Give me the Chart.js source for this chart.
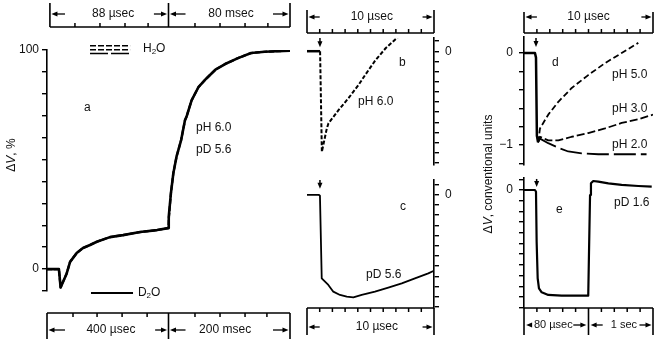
<!DOCTYPE html>
<html><head><meta charset="utf-8">
<script src="https://cdn.jsdelivr.net/npm/chart.js@4.4.1/dist/chart.umd.min.js"></script>
<style>
html,body{margin:0;padding:0;background:#fff;}
#wrap{position:relative;width:662px;height:351px;overflow:hidden;background:#fff;}
#wrap canvas{position:absolute;left:0;top:0;}
</style></head><body>
<div id="wrap">
<canvas id="pa" width="662" height="351"></canvas>
<canvas id="pb" width="662" height="351"></canvas>
<canvas id="pc" width="662" height="351"></canvas>
<canvas id="pd" width="662" height="351"></canvas>
<canvas id="pe" width="662" height="351"></canvas>
</div>
<script>
// ---------------- DATA (x in scale divisions 0..10) ----------------
// panel a : H2O and D2O traces coincide (different time bases)
const aTime   = [0,0.49,0.56,0.81,0.95,1.22,1.48,1.77,2.05,2.59,3.13,3.83,4.53,4.98,5.0,5.02,5.1,5.2,5.33,5.52,5.68,5.74,5.95,6.23,6.56,6.93,7.33,7.86,8.4,8.96,10];
const aSignal = [0,0,-8.4,-2,3.3,7.3,9.6,11,12.5,14.6,15.5,16.9,17.8,18.7,19.3,23.9,34.7,43.8,51.3,58.9,68,69.5,77,83,87,91,93.6,96.3,98.6,99.2,99.7];
const aTickLabels = [0, 100];
// panel b : pH 6.0
const bPreTime = [0, 1.03];
const bPreVal  = [0, 0];
const bTime = [1.03,1.17,1.56,1.69,2.48,3.28,4.07,4.6,5.4,6.19,7.25];
const bVal  = [0,-9.9,-7.6,-7.1,-5.8,-4.6,-3.3,-2.3,-0.87,0.29,1.5];
// panel c : pD 5.6
const cTime = [0,0.92,1.02,1.16,1.28,1.68,2.07,2.6,3.13,3.65,4.31,5.35,6.4,7.46,8.5,9.55,9.95];
const cVal  = [0,0,-0.1,-8.2,-8.35,-8.84,-9.5,-9.82,-9.99,-10.05,-9.82,-9.5,-9.1,-8.68,-8.19,-7.7,-7.47];
// panel d : flash response and three pH branches
const dPreTime = [0,0.85,0.93,1.0,1.09];
const dPreVal  = [0,0,-0.05,-0.9,-0.97];
const dTime5 = [1.09,1.24,1.88,2.66,3.7,4.98,6.28,7.57,8.86];
const dPH5   = [-0.97,-0.82,-0.67,-0.53,-0.38,-0.24,-0.11,0,0.11];
const dTime3 = [1.09,1.24,1.88,2.66,3.7,4.98,6.28,7.57,8.86,10];
const dPH3   = [-0.97,-0.91,-0.95,-0.95,-0.91,-0.87,-0.82,-0.76,-0.72,-0.67];
const dTime2 = [1.09,1.24,1.88,2.66,3.43,4.47,5.76,7.57,9.5];
const dPH2   = [-0.97,-0.93,-0.98,-1.03,-1.07,-1.09,-1.1,-1.1,-1.1];
const dTickLabels = [0, -1];
// panel e : pD 1.6
const eTime = [0,0.85,0.93,0.98,1.06,1.16,1.37,1.88,2.92,4.98,5.04,5.12,5.19,5.37,5.76,6.54,7.57,8.86,9.9];
const eVal  = [0,0,-0.16,-4.84,-8.25,-9.19,-9.56,-9.81,-9.88,-9.88,-5.76,-0.47,0.62,0.84,0.78,0.62,0.47,0.37,0.31];

// ---------------- helpers ----------------
const W = 662, H = 351;
const FONT = "'Liberation Sans', Arial, Helvetica, sans-serif";
const INK = '#111';
const pts = (xs, ys) => xs.map((x, i) => ({x, y: ys[i]}));

function seg(ctx, x0, y0, x1, y1) { ctx.beginPath(); ctx.moveTo(x0, y0); ctx.lineTo(x1, y1); ctx.stroke(); }
function hArrow(ctx, xFrom, xTo, y) {
  const d = Math.sign(xTo - xFrom);
  seg(ctx, xFrom, y, xTo - d * 4, y);
  ctx.beginPath(); ctx.moveTo(xTo, y); ctx.lineTo(xTo - d * 6, y - 2.5); ctx.lineTo(xTo - d * 6, y + 2.5); ctx.closePath(); ctx.fill();
}
function vArrow(ctx, x, y0, y1) {
  seg(ctx, x, y0, x, y1 - 4);
  ctx.beginPath(); ctx.moveTo(x, y1); ctx.lineTo(x - 2.5, y1 - 6); ctx.lineTo(x + 2.5, y1 - 6); ctx.closePath(); ctx.fill();
}
// rich text: parts [{t, it, sub, size}]
function rich(ctx, parts, x, y, align) {
  const fontOf = p => (p.it ? 'italic ' : '') + (p.sub ? '8px ' : (p.size || 12) + 'px ') + FONT;
  let total = 0;
  parts.forEach(p => { ctx.font = fontOf(p); total += ctx.measureText(p.t).width; });
  let cx = align === 'center' ? x - total / 2 : (align === 'right' ? x - total : x);
  ctx.textAlign = 'left'; ctx.textBaseline = 'middle';
  parts.forEach(p => { ctx.font = fontOf(p); ctx.fillText(p.t, cx, y + (p.sub ? 3 : 0)); cx += ctx.measureText(p.t).width; });
}

// ---------------- annotation specs (scale divisions / data values) ----------------
const DECOR = {
  pa: {
    bars: [
      {y: 27, dir: -1, capA: 3, capB: 27, ty: 14, from: 0.12, to: 10, caps: [0.12, 5, 10],
       ticks: [1.15, 2.18, 3.21, 4.16, 6.09, 7.12, 8.15, 9.09],
       segs: [{t: '88 µsec', tx: 2.72, l: [0.12, 0.74], r: [4.4, 5]}, {t: '80 msec', tx: 7.57, l: [5, 5.7], r: [9.3, 10]}]},
      {y: 313, dir: 1, capA: 313, capB: 339, ty: 330, from: 0, to: 10, caps: [0, 5, 10],
       ticks: [1.07, 2.06, 3.09, 4.12, 6.09, 7.12, 8.15, 9.05],
       segs: [{t: '400 µsec', tx: 2.63, l: [0, 0.74], r: [4.45, 5]}, {t: '200 msec', tx: 7.33, l: [5, 5.7], r: [9.3, 10]}]}
    ],
    texts: [
      {p: [{t: 'a'}], x: 1.52, y: 73.5},
      {p: [{t: 'pH 6.0'}], x: 6.13, y: 64.4},
      {p: [{t: 'pD 5.6'}], x: 6.13, y: 54.4},
      {p: [{t: 'H'}, {t: '2', sub: 1}, {t: 'O'}], x: 3.95, y: 100.5},
      {p: [{t: 'D'}, {t: '2', sub: 1}, {t: 'O'}], x: 3.74, y: -10.9}
    ],
    vtitle: {p: [{t: 'Δ'}, {t: 'V', it: 1}, {t: ', %'}], px: 12, py: 155},
    legend: [
      {x0: 1.77, x1: 3.42, y: 101.9, dash: [6, 2], w: 1.5},
      {x0: 1.77, x1: 3.42, y: 100.1, dash: [6, 2], w: 1.5},
      {x0: 1.77, x1: 3.42, y: 98.4, dash: [18, 3], w: 1.5},
      {x0: 1.81, x1: 3.54, y: -10.9, dash: [], w: 2}
    ],
    markers: []
  },
  pb: {
    bars: [
      {y: 33, dir: -1, capA: 10, capB: 33, ty: 17, from: 0, to: 10, caps: [0, 10],
       ticks: [1, 2, 3, 4, 5, 6, 7, 8, 9],
       segs: [{t: '10 µsec', tx: 5.1, l: [0, 1.0], r: [9.1, 10]}]}
    ],
    texts: [{p: [{t: 'b'}], x: 7.24, y: -1.16}, {p: [{t: 'pH 6.0'}], x: 4.02, y: -5.0}],
    markers: [{x: 1.02, y0: 1.3, y1: 0.4}], legend: []
  },
  pc: {
    bars: [
      {y: 308, dir: 1, capA: 308, capB: 335, ty: 327, from: 0, to: 10, caps: [0, 10],
       ticks: [1, 2, 3, 4, 5, 6, 7, 8, 9],
       segs: [{t: '10 µsec', tx: 5.5, l: [0, 1.0], r: [9.1, 10]}]}
    ],
    texts: [{p: [{t: 'c'}], x: 7.32, y: -1.2}, {p: [{t: 'pD 5.6'}], x: 4.65, y: -7.86}],
    markers: [{x: 1.02, y0: 1.45, y1: 0.6}], legend: []
  },
  pd: {
    bars: [
      {y: 33, dir: -1, capA: 12, capB: 33, ty: 17, from: 0, to: 10, caps: [0, 10],
       ticks: [1, 2, 3, 4, 5, 6, 7, 8, 9],
       segs: [{t: '10 µsec', tx: 5.0, l: [0, 1.0], r: [9.1, 10]}]}
    ],
    texts: [
      {p: [{t: 'd'}], x: 2.17, y: -0.109},
      {p: [{t: 'pH 5.0'}], x: 6.82, y: -0.24},
      {p: [{t: 'pH 3.0'}], x: 6.82, y: -0.6},
      {p: [{t: 'pH 2.0'}], x: 6.82, y: -1.0}
    ],
    vtitle: {p: [{t: 'Δ'}, {t: 'V', it: 1}, {t: ', conventional units'}], px: 489, py: 174},
    markers: [{x: 0.93, y0: 0.163, y1: 0.065}], legend: []
  },
  pe: {
    bars: [
      {y: 308, dir: 1, capA: 308, capB: 335, ty: 325, from: 0, to: 10, caps: [0, 5, 10],
       ticks: [1, 2, 3, 4, 6, 7, 8, 9],
       segs: [{t: '80 µsec', size: 11, tx: 2.27, l: [0.05, 0.62], r: [3.82, 4.95]},
              {t: '1 sec', size: 11, tx: 7.75, l: [5.05, 6.1], r: [8.95, 10]}]}
    ],
    texts: [{p: [{t: 'e'}], x: 2.48, y: -1.87}, {p: [{t: 'pD 1.6'}], x: 6.98, y: -1.21}],
    markers: [{x: 0.98, y0: 1.03, y1: 0.28}], legend: []
  }
};

const decorPlugin = {
  id: 'panelDecor',
  afterDraw(chart) {
    const spec = DECOR[chart.canvas.id];
    if (!spec) return;
    const ctx = chart.ctx;
    const X = v => chart.scales.x.getPixelForValue(v);
    const Y = v => chart.scales.y.getPixelForValue(v);
    ctx.save();
    ctx.strokeStyle = '#000'; ctx.fillStyle = INK; ctx.lineCap = 'butt';
    // time bars
    spec.bars.forEach(b => {
      ctx.lineWidth = 1.6;
      seg(ctx, X(b.from), b.y, X(b.to), b.y);
      b.caps.forEach(c => seg(ctx, X(c), b.capA, X(c), b.capB));
      ctx.lineWidth = 1.5;
      b.ticks.forEach(t => seg(ctx, X(t), b.y, X(t), b.y + b.dir * 4));
      ctx.lineWidth = 1.3;
      b.segs.forEach(s => {
        ctx.fillStyle = INK;
        rich(ctx, [{t: s.t, size: s.size}], X(s.tx), b.ty, 'center');
        ctx.fillStyle = '#000';
        hArrow(ctx, X(s.l[1]), X(s.l[0]) + 1.5, b.ty);
        hArrow(ctx, X(s.r[0]), X(s.r[1]) - 1.5, b.ty);
      });
    });
    // markers (flash arrows)
    ctx.lineWidth = 1.5; ctx.fillStyle = '#000';
    spec.markers.forEach(m => vArrow(ctx, X(m.x), Y(m.y0), Y(m.y1)));
    // legend lines
    spec.legend.forEach(l => { ctx.lineWidth = l.w; ctx.setLineDash(l.dash); seg(ctx, X(l.x0), Y(l.y), X(l.x1), Y(l.y)); });
    ctx.setLineDash([]);
    // texts
    ctx.fillStyle = INK;
    spec.texts.forEach(t => rich(ctx, t.p, X(t.x), Y(t.y), 'left'));
    if (spec.vtitle) {
      ctx.save(); ctx.translate(spec.vtitle.px, spec.vtitle.py); ctx.rotate(-Math.PI / 2);
      rich(ctx, spec.vtitle.p, 0, 0, 'center'); ctx.restore();
    }
    ctx.restore();
  }
};

function makePanel(id, area, y, datasets) {
  const pad = {
    top: area.top, bottom: H - area.bottom,
    left: y.position === 'left' ? area.left - y.axisW : area.left,
    right: y.position === 'right' ? W - area.right - y.axisW : W - area.right
  };
  return new Chart(document.getElementById(id), {
    type: 'line',
    data: {datasets},
    options: {
      responsive: false, animation: false, devicePixelRatio: 1,
      layout: {padding: pad},
      plugins: {legend: {display: false}, tooltip: {enabled: false}},
      elements: {point: {radius: 0}, line: {tension: 0, borderCapStyle: 'butt', borderJoinStyle: 'round'}},
      scales: {
        x: {type: 'linear', min: 0, max: 10, display: false},
        y: {
          type: 'linear', position: y.position, min: y.min, max: y.max,
          border: {display: true, color: '#000', width: 1.6},
          grid: {drawOnChartArea: false, drawTicks: true, tickLength: 5, color: '#000', lineWidth: 1.4},
          ticks: {stepSize: y.step, autoSkip: false, includeBounds: false, padding: y.pad, color: INK,
                  font: {family: FONT, size: 12}, callback: y.cb},
          afterFit: s => { s.width = y.axisW; }
        }
      }
    },
    plugins: [decorPlugin]
  });
}
const near = (v, arr) => arr.find(a => Math.abs(v - a) < 1e-6);
const lbl = arr => v => { const a = near(v, arr); return a === undefined ? '' : (a < 0 ? '\u2212' + Math.abs(a) : String(a)); };
const ds = (xs, ys, w, dash) => ({data: pts(xs, ys), borderColor: '#000', borderWidth: w, borderDash: dash || [], fill: false});

// panel a
makePanel('pa', {left: 47, right: 290, top: 50, bottom: 291},
  {position: 'left', axisW: 47, min: -10, max: 100, step: 10, pad: 3, cb: lbl(aTickLabels)},
  [Object.assign(ds(aTime, aSignal, 2.6), {label: 'D2O'}), Object.assign(ds(aTime, aSignal, 2.2, [5, 2]), {label: 'H2O'})]);
// panel b
makePanel('pb', {left: 307, right: 434, top: 38, bottom: 165},
  {position: 'right', axisW: 20, min: -11.2, max: 1.3, step: 1, pad: 6, cb: lbl([0])},
  [ds(bPreTime, bPreVal, 2.5), ds(bTime, bVal, 2, [4, 2])]);
// panel c
makePanel('pc', {left: 307, right: 434, top: 180, bottom: 308},
  {position: 'right', axisW: 20, min: -11.1, max: 1.45, step: 1, pad: 6, cb: lbl([0])},
  [ds(cTime, cVal, 1.8)]);
// panel d
makePanel('pd', {left: 524, right: 653, top: 37, bottom: 165},
  {position: 'left', axisW: 30, min: -1.217, max: 0.174, step: 0.2, pad: 6, cb: lbl(dTickLabels)},
  [ds(dPreTime, dPreVal, 2.5), ds(dTime5, dPH5, 1.8, [6, 3]), ds(dTime3, dPH3, 1.8, [8, 3]), ds(dTime2, dPH2, 1.8, [22, 5])]);
// panel e
makePanel('pe', {left: 524, right: 653, top: 178, bottom: 308},
  {position: 'left', axisW: 30, min: -11.03, max: 1.12, step: 1, pad: 6, cb: lbl([0])},
  [ds(eTime, eVal, 2.2)]);
</script>
</body></html>
